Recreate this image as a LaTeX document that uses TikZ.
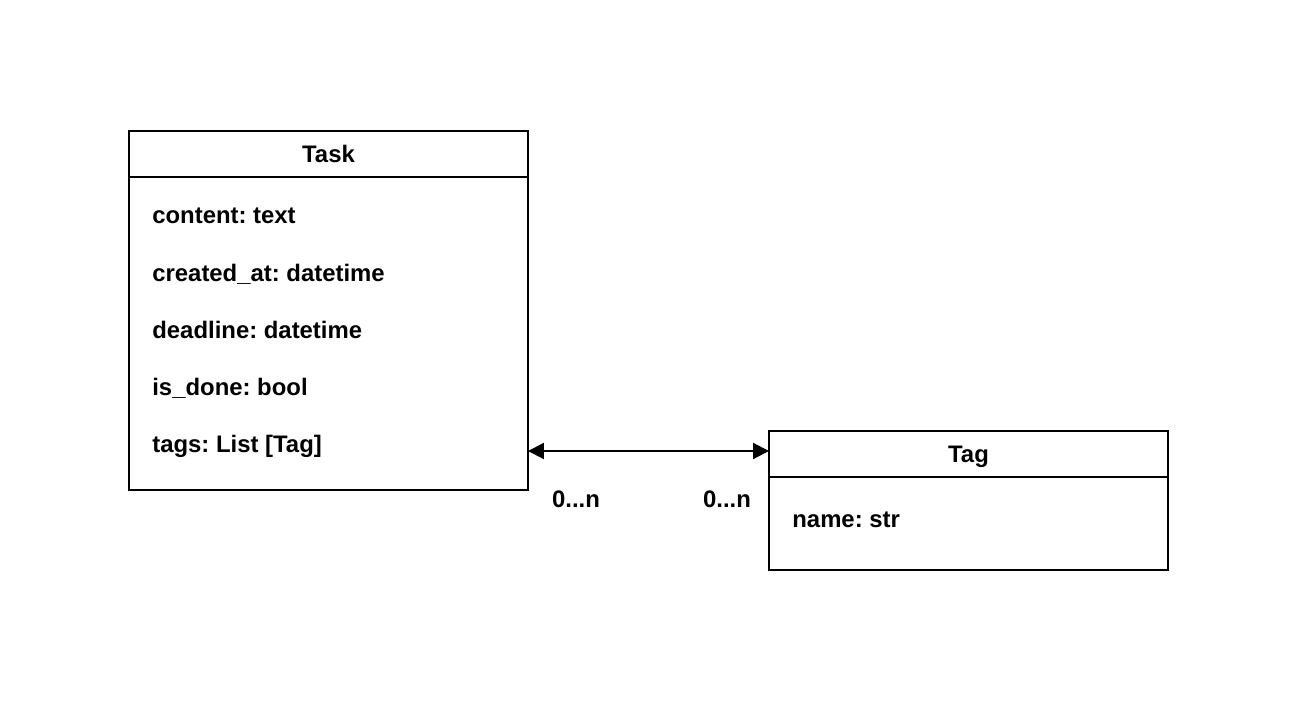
\documentclass[tikz,border=0pt]{standalone}
\usepackage{fontspec}
\setmainfont{Liberation Sans}
\frenchspacing
\usetikzlibrary{arrows.meta}
\tikzset{
  caja/.style={draw, line width=1.1pt, inner sep=0pt, outer sep=0pt},
  texto/.style={font=\fontsize{13.6}{16}\selectfont\bfseries, inner sep=0pt},
  flecha/.style={line width=1.1pt, {Triangle[length=0.32cm,width=0.32cm]}-{Triangle[length=0.32cm,width=0.32cm]}}
}
\begin{document}
\begin{tikzpicture}[x=0.02cm,y=-0.02cm]
        \useasboundingbox (0,0) rectangle (1307,713);
        % Clase Task
        \node[caja, minimum width=7.98cm, minimum height=0.92cm] (taskhead) at (328.5,154) {};
        \node[caja, minimum width=7.98cm, minimum height=6.26cm, anchor=north] (taskbody) at (taskhead.south) {};
        \node[texto, anchor=base] (tasktitle) at (328.5,162) {Task};
        \node[texto, anchor=west] (content) at (152,216) {content: text};
        \node[texto, anchor=west] (created) at (152,274) {created\_at: datetime};
        \node[texto, anchor=west] (deadline) at (152,330) {deadline: datetime};
        \node[texto, anchor=west] (isdone) at (152,388) {is\_done: bool};
        \node[texto, anchor=west] (tags) at (152,446) {tags: List [Tag]};
        % Clase Tag
        \node[caja, minimum width=7.98cm, minimum height=0.92cm] (taghead) at (968.5,454) {};
        \node[caja, minimum width=7.98cm, minimum height=1.86cm, anchor=north] (tagbody) at (taghead.south) {};
        \node[texto, anchor=base] (tagtitle) at (968.5,462) {Tag};
        \node[texto, anchor=west] (name) at (792,520) {name: str};
        % Relacion
        \draw[flecha] (taskbody.east |- 0,451) -- (taghead.west |- 0,451);
        \node[texto] (multa) at (576,499) {0...n};
        \node[texto] (multb) at (727,499) {0...n};
    \end{tikzpicture}
\end{document}
